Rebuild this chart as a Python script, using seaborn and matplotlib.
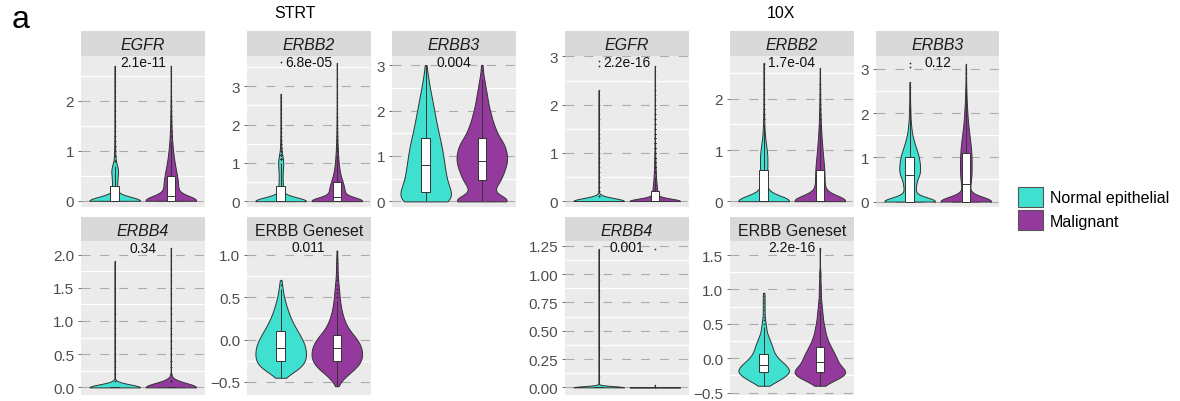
import numpy as np
import pandas as pd
import matplotlib
matplotlib.use("Agg")
import matplotlib.pyplot as plt
from matplotlib.patches import Patch
from matplotlib.ticker import FuncFormatter
import seaborn as sns

# ---------------------------------------------------------------- data
GROUPS = ["Normal epithelial", "Malignant"]
PALETTE = ["#40E0D0", "#933A9C"]

# expression levels (log scale) at which cells are counted
GENE_LEVELS = [0.0, 0.1, 0.2, 0.3, 0.4, 0.5, 0.6, 0.7, 0.8, 0.9,
               1.0, 1.1, 1.2, 1.3, 1.4, 1.5, 1.6, 1.7, 1.8, 1.9,
               2.0, 2.1, 2.2, 2.3, 2.4, 2.5, 2.6, 2.7, 2.8, 2.9,
               3.0, 3.1, 3.2, 3.3, 3.4, 3.5, 3.6]
SCORE_LEVELS = [-0.55, -0.50, -0.45, -0.40, -0.35, -0.30, -0.25, -0.20, -0.15, -0.10,
                -0.05, 0.00, 0.05, 0.10, 0.15, 0.20, 0.25, 0.30, 0.35, 0.40,
                0.45, 0.50, 0.55, 0.60, 0.65, 0.70, 0.75, 0.80, 0.85, 0.90,
                0.95, 1.00, 1.05, 1.10, 1.15, 1.20, 1.25, 1.30, 1.35, 1.40,
                1.45, 1.50, 1.55, 1.60]
ERBB4_10X_LEVELS = [0.0, 0.02, 0.1, 0.35, 0.5, 0.55, 0.8, 0.85, 0.95, 1.0, 1.22]

# number of cells per level
STRT_EGFR_NORMAL = [420, 22, 22, 22, 24, 26, 34, 24, 8, 6, 5, 4, 3, 3, 2, 2, 2, 1, 2, 1,
                    2, 1, 1, 1, 1, 1, 1, 1]
STRT_EGFR_MALIGNANT = [300, 40, 42, 42, 40, 36, 30, 25, 20, 16, 13, 10, 8, 6, 5, 4, 3, 3,
                       2, 2, 2, 1, 1, 1, 1, 1, 1, 1]
STRT_ERBB2_NORMAL = [570, 22, 22, 22, 22, 20, 18, 18, 20, 24, 26, 24, 16, 8, 6, 5, 4, 3, 3,
                     2, 2, 1, 1, 1, 1, 1, 1, 1, 1]
STRT_ERBB2_MALIGNANT = [300, 40, 45, 45, 40, 34, 26, 20, 16, 13, 11, 9, 7, 6, 5, 4, 3, 3,
                        2, 2, 2, 1, 2, 1, 1, 1, 1, 1, 1, 0, 1, 0, 1, 0, 0, 0, 1]
STRT_ERBB3_NORMAL = [50, 19, 18, 18, 17, 16, 16, 15, 15, 14, 14, 13, 13, 12, 11, 10, 9, 9,
                     8, 7, 7, 6, 5, 5, 4, 3, 3, 2, 1, 1, 1]
STRT_ERBB3_MALIGNANT = [50, 10, 9, 11, 15, 17, 18, 20, 21, 22, 22, 21, 20, 19, 15, 13, 12,
                        10, 9, 8, 7, 6, 5, 5, 4, 3, 3, 2, 1, 1, 1]
STRT_ERBB4_NORMAL = [700, 3, 2, 1, 2, 2, 1, 1, 2, 1, 2, 2, 1, 0, 0, 1, 0, 0, 0, 1]
STRT_ERBB4_MALIGNANT = [800, 6, 4, 3, 3, 3, 2, 2, 2, 2, 2, 2, 2, 1, 2, 1, 1, 1, 1, 1, 1, 1]
STRT_GENESET_NORMAL = [0, 0, 3, 12, 22, 28, 30, 30, 30, 30, 28, 26, 23, 20, 17, 14, 12, 10,
                       8, 7, 5, 4, 3, 2, 2, 1]
STRT_GENESET_MALIGNANT = [1, 4, 9, 16, 23, 29, 32, 33, 33, 32, 30, 27, 22, 17, 13, 11, 9, 7,
                          6, 5, 4, 4, 3, 3, 2, 2, 1, 1, 1, 1, 1, 0, 1]

X10_EGFR_NORMAL = [2000, 6, 4, 3, 3, 3, 3, 2, 2, 2, 2, 2, 2, 2, 2, 2, 1, 2, 1, 1, 2, 1, 1, 1]
X10_EGFR_MALIGNANT = [1800, 150, 150, 120, 90, 70, 55, 45, 35, 28, 22, 18, 14, 11, 9, 7, 6,
                      5, 4, 3, 3, 2, 2, 2, 1, 1, 1, 1, 1]
X10_ERBB2_NORMAL = [560, 40, 35, 32, 32, 32, 33, 34, 35, 35, 30, 22, 16, 11, 8, 6, 5, 4, 3,
                    3, 2, 2, 2, 1, 1, 1, 1, 1]
X10_ERBB2_MALIGNANT = [420, 40, 36, 34, 32, 32, 32, 28, 25, 22, 19, 16, 13, 11, 9, 7, 6, 5,
                       4, 3, 3, 2, 2, 2, 1, 1, 1]
X10_ERBB3_NORMAL = [140, 12, 14, 16, 17, 18, 27, 27, 27, 26, 24, 21, 17, 13, 10, 7, 5, 4, 3,
                    2, 2, 2, 1, 1, 1, 1, 1, 1]
X10_ERBB3_MALIGNANT = [240, 14, 14, 16, 18, 20, 22, 22, 22, 22, 22, 21, 20, 18, 16, 14, 12,
                       10, 8, 7, 6, 5, 4, 3, 3, 2, 2, 1, 1, 1, 1, 1]
X10_ERBB4_NORMAL = [2000, 0, 1, 1, 1, 1, 1, 1, 1, 1, 1]
X10_ERBB4_MALIGNANT = [2400, 1]
X10_GENESET_NORMAL = [0, 0, 0, 6, 12, 20, 25, 30, 28, 25, 20, 16, 13, 11, 10, 9, 7, 6, 4, 3,
                      3, 2, 2, 1, 1, 1, 1, 1, 1, 1, 1]
X10_GENESET_MALIGNANT = [0, 0, 0, 3, 10, 18, 27, 30, 24, 19, 18, 17, 16, 13, 12, 10, 8, 7,
                         6, 5, 5, 4, 3, 3, 3, 2, 2, 2, 1, 1, 1, 1, 1, 1, 0, 1, 1, 0, 0, 0,
                         0, 0, 0, 1]

# Wilcoxon p-values per panel
P_VALUES = {
    ("STRT", "EGFR"): "2.1e-11", ("STRT", "ERBB2"): "6.8e-05", ("STRT", "ERBB3"): "0.004",
    ("STRT", "ERBB4"): "0.34", ("STRT", "ERBB Geneset"): "0.011",
    ("10X", "EGFR"): "2.2e-16", ("10X", "ERBB2"): "1.7e-04", ("10X", "ERBB3"): "0.12",
    ("10X", "ERBB4"): "0.001", ("10X", "ERBB Geneset"): "2.2e-16",
}

# isolated cells plotted outside the violins: (cohort, gene, group index, value)
EXTRA_POINTS = [("STRT", "ERBB2", 0, 3.63), ("10X", "EGFR", 0, 2.80), ("10X", "EGFR", 0, 2.90),
                ("10X", "ERBB2", 0, 2.68), ("10X", "ERBB3", 0, 3.05), ("10X", "ERBB3", 0, 3.13),
                ("10X", "ERBB4", 1, 1.22)]

PANEL_DATA = {
    ("STRT", "EGFR"): (GENE_LEVELS, STRT_EGFR_NORMAL, STRT_EGFR_MALIGNANT),
    ("STRT", "ERBB2"): (GENE_LEVELS, STRT_ERBB2_NORMAL, STRT_ERBB2_MALIGNANT),
    ("STRT", "ERBB3"): (GENE_LEVELS, STRT_ERBB3_NORMAL, STRT_ERBB3_MALIGNANT),
    ("STRT", "ERBB4"): (GENE_LEVELS, STRT_ERBB4_NORMAL, STRT_ERBB4_MALIGNANT),
    ("STRT", "ERBB Geneset"): (SCORE_LEVELS, STRT_GENESET_NORMAL, STRT_GENESET_MALIGNANT),
    ("10X", "EGFR"): (GENE_LEVELS, X10_EGFR_NORMAL, X10_EGFR_MALIGNANT),
    ("10X", "ERBB2"): (GENE_LEVELS, X10_ERBB2_NORMAL, X10_ERBB2_MALIGNANT),
    ("10X", "ERBB3"): (GENE_LEVELS, X10_ERBB3_NORMAL, X10_ERBB3_MALIGNANT),
    ("10X", "ERBB4"): (ERBB4_10X_LEVELS, X10_ERBB4_NORMAL, X10_ERBB4_MALIGNANT),
    ("10X", "ERBB Geneset"): (SCORE_LEVELS, X10_GENESET_NORMAL, X10_GENESET_MALIGNANT),
}

# ---------------------------------------------------------------- layout
W, H = 1180, 402
COL_LEFT = {"STRT": [81, 247, 392], "10X": [565, 730, 876]}
PANEL_W = 123.5
ROWS = {0: dict(strip_top=32, strip_h=25, top=57, h=151.3),
        1: dict(strip_top=218, strip_h=24.3, top=242.3, h=153.4)}
GENE_POS = {"EGFR": (0, 0), "ERBB2": (0, 1), "ERBB3": (0, 2),
            "ERBB4": (1, 0), "ERBB Geneset": (1, 1)}

# y range, ticks, tick decimals, p-label height, bandwidth adjustment per group
AXIS = {
    ("STRT", "EGFR"): ((-0.13, 2.90), [0, 1, 2], 0, 2.78, (1.4, 1.0)),
    ("STRT", "ERBB2"): ((-0.16, 3.79), [0, 1, 2, 3], 0, 3.63, (1.4, 1.0)),
    ("STRT", "ERBB3"): ((-0.13, 3.20), [0, 1, 2, 3], 0, 3.07, (1.0, 0.6)),
    ("STRT", "ERBB4"): ((-0.11, 2.20), [0, 0.5, 1.0, 1.5, 2.0], 1, 2.10, (1.3, 1.3)),
    ("STRT", "ERBB Geneset"): ((-0.65, 1.16), [-0.5, 0, 0.5, 1.0], 1, 1.09, (1.0, 1.0)),
    ("10X", "EGFR"): ((-0.13, 3.01), [0, 1, 2, 3], 0, 2.89, (1.8, 1.8)),
    ("10X", "ERBB2"): ((-0.12, 2.84), [0, 1, 2], 0, 2.72, (1.0, 1.0)),
    ("10X", "ERBB3"): ((-0.13, 3.29), [0, 1, 2, 3], 0, 3.15, (0.6, 0.6)),
    ("10X", "ERBB4"): ((-0.065, 1.29), [0, 0.25, 0.5, 0.75, 1.0, 1.25], 2, 1.24, (1.0, 1.0)),
    ("10X", "ERBB Geneset"): ((-0.53, 1.70), [-0.5, 0, 0.5, 1.0, 1.5], 1, 1.61, (0.8, 0.8)),
}


def rect(left, top, width, height):
    return [left / W, 1 - (top + height) / H, width / W, height / H]


def nrd0(kde):
    """Silverman's rule of thumb (R's bw.nrd0) expressed as a scale factor."""
    x = np.asarray(kde.dataset, dtype=float).ravel()
    sd = x.std(ddof=1)
    q25, q75 = np.percentile(x, [25, 75])
    lo = min(sd, (q75 - q25) / 1.34)
    if lo <= 0:
        lo = sd if sd > 0 else 1.0
    bw = 0.9 * lo * len(x) ** -0.2
    return bw / sd if sd > 0 else 1.0


def cells(levels, normal, malignant):
    vals = np.concatenate([np.repeat(levels[:len(normal)], normal),
                           np.repeat(levels[:len(malignant)], malignant)])
    grp = [GROUPS[0]] * int(np.sum(normal)) + [GROUPS[1]] * int(np.sum(malignant))
    return pd.DataFrame({"group": grp, "value": vals})


plt.rcParams["font.family"] = ["Liberation Sans", "DejaVu Sans"]
plt.rcParams["axes.unicode_minus"] = True

fig = plt.figure(figsize=(W / 100, H / 100), dpi=100)
LINE = "#333333"

for (cohort, gene), (levels, normal, malignant) in PANEL_DATA.items():
    row, col = GENE_POS[gene]
    r = ROWS[row]
    left = COL_LEFT[cohort][col]
    ylim, ticks, dec, label_y, adjs = AXIS[(cohort, gene)]

    # strip header
    sax = fig.add_axes(rect(left, r["strip_top"], PANEL_W, r["strip_h"]))
    sax.set_facecolor("#D9D9D9")
    sax.set_xticks([]); sax.set_yticks([])
    for s in sax.spines.values():
        s.set_visible(False)
    sax.text(0.5, 0.46, gene, ha="center", va="center", fontsize=11.5, color="#1A1A1A",
             style="normal" if gene == "ERBB Geneset" else "italic", transform=sax.transAxes)

    ax = fig.add_axes(rect(left, r["top"], PANEL_W, r["h"]))
    ax.set_facecolor("#EBEBEB")
    df = cells(levels, normal, malignant)

    # one violin per group so each gets its own smoothing
    for grp, adj in zip(GROUPS, adjs):
        sns.violinplot(data=df[df["group"] == grp], x="group", y="value", hue="group",
                       order=GROUPS, hue_order=GROUPS, palette=PALETTE, saturation=1,
                       density_norm="width", cut=0, inner=None, width=0.9, linewidth=0.7,
                       linecolor=LINE, bw_method=nrd0, bw_adjust=adj, gridsize=400,
                       legend=False, ax=ax)
    sns.boxplot(data=df, x="group", y="value", order=GROUPS, width=0.15, color="white",
                saturation=1, linewidth=0.7, linecolor=LINE, showcaps=False, whis=1.5,
                flierprops=dict(marker="o", markersize=1.1, markerfacecolor=LINE,
                                markeredgecolor="none", alpha=0.8), ax=ax)

    for (c, g, gi, v) in EXTRA_POINTS:
        if (c, g) == (cohort, gene):
            ax.plot([gi], [v], "o", ms=1.3, color=LINE, mec="none")

    ax.text(0.5, label_y, P_VALUES[(cohort, gene)], ha="center", va="center",
            fontsize=10, color="#111111", clip_on=False)

    ax.set_xlim(-0.6, 1.6)
    ax.set_ylim(*ylim)
    ax.set_xticks([])
    ax.set_xlabel(""); ax.set_ylabel("")
    ax.set_yticks(ticks)
    step = ticks[1] - ticks[0]
    minor = [t + step / 2 for t in [ticks[0] - step] + list(ticks)]
    ax.set_yticks([m for m in minor if ylim[0] < m < ylim[1]], minor=True)
    ax.yaxis.set_major_formatter(FuncFormatter(
        lambda v, p, d=dec: f"{v:.{d}f}".replace("-", "\u2212")))
    ax.grid(axis="y", which="major", linestyle=(0, (8, 9)), color="#ABABAB", linewidth=0.8)
    ax.grid(axis="y", which="minor", linestyle="-", color="white", linewidth=0.9)
    ax.grid(axis="x", visible=False)
    ax.set_axisbelow(True)
    ax.tick_params(axis="y", which="major", length=2.5, width=0.6, color="#555555",
                   labelsize=11, labelcolor="#4D4D4D", pad=2.5)
    ax.tick_params(axis="y", which="minor", length=0)
    ax.tick_params(axis="x", length=0)
    for s in ax.spines.values():
        s.set_visible(False)

# titles
fig.text(12 / W, 1 - 28 / H, "a", fontsize=23, ha="left", va="baseline")
fig.text(295 / W, 1 - 14 / H, "STRT", fontsize=11.5, ha="center", va="center")
fig.text(781 / W, 1 - 14 / H, "10X", fontsize=11.5, ha="center", va="center")

handles = [Patch(facecolor=c, edgecolor="#555555", linewidth=0.8, label=g)
           for g, c in zip(GROUPS, PALETTE)]
fig.legend(handles=handles, loc="center left", bbox_to_anchor=(1018 / W, 1 - 209.5 / H),
           frameon=False, fontsize=11.5, handlelength=1.55, handleheight=1.5,
           handletextpad=0.45, labelspacing=0.25, borderpad=0, borderaxespad=0)

fig.savefig("out.png", dpi=100)
